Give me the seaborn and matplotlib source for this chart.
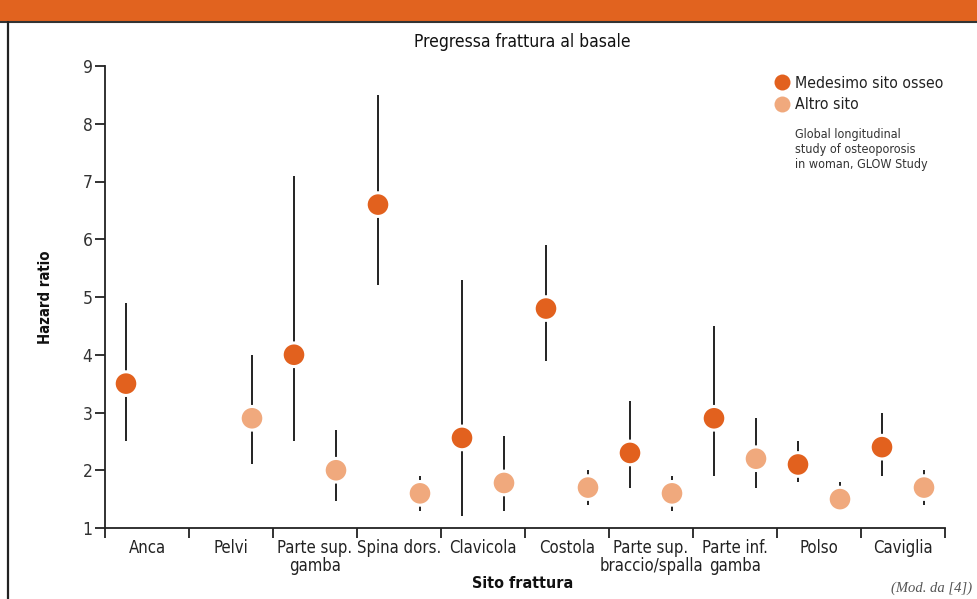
import numpy as np
import pandas as pd
import matplotlib
matplotlib.use("Agg")
import matplotlib.pyplot as plt
from matplotlib.patches import Rectangle
from matplotlib.lines import Line2D
import seaborn as sns

# Fracture sites (x categories)
siti = ["Anca", "Pelvi", "Parte sup.\ngamba", "Spina dors.", "Clavicola",
        "Costola", "Parte sup.\nbraccio/spalla", "Parte inf.\ngamba", "Polso", "Caviglia"]

# Same bone site: hazard ratio and 95% CI (None = not reported)
hr_stesso = [3.5, None, 4.0, 6.6, 2.56, 4.8, 2.3, 2.9, 2.1, 2.4]
lo_stesso = [2.5, None, 2.5, 5.2, 1.2, 3.9, 1.7, 1.9, 1.8, 1.9]
hi_stesso = [4.9, None, 7.1, 8.5, 5.3, 5.9, 3.2, 4.5, 2.5, 3.0]

# Other site: hazard ratio and 95% CI
hr_altro = [None, 2.9, 2.0, 1.6, 1.78, 1.7, 1.6, 2.2, 1.5, 1.7]
lo_altro = [None, 2.1, 1.47, 1.3, 1.3, 1.4, 1.3, 1.7, 1.3, 1.4]
hi_altro = [None, 4.0, 2.7, 1.9, 2.6, 2.0, 1.9, 2.9, 1.8, 2.0]

gruppi = ["Medesimo sito osseo", "Altro sito"]
colori = {"Medesimo sito osseo": "#E2611E", "Altro sito": "#F0A97D"}
offset = {"Medesimo sito osseo": 0.25, "Altro sito": 0.75}

rows = []
for serie, (hr, lo, hi) in zip(gruppi, [(hr_stesso, lo_stesso, hi_stesso),
                                        (hr_altro, lo_altro, hi_altro)]):
    for i, s in enumerate(siti):
        if hr[i] is None:
            continue
        rows.append(dict(sito=s, gruppo=serie, pos=i + offset[serie],
                         hr=hr[i], lo=lo[i], hi=hi[i]))
df = pd.DataFrame(rows)

sns.set_theme(style="ticks")
plt.rcParams["font.family"] = ["DejaVu Sans"]
plt.rcParams["font.stretch"] = "condensed"
TXT = "#222222"

fig = plt.figure(figsize=(9.77, 5.99), dpi=100)
ax = fig.add_axes([105 / 977, 71 / 599, 840 / 977, 462 / 599])

# confidence intervals
ax.vlines(df["pos"], df["lo"], df["hi"], color="#111111", lw=1.3, zorder=2)

sns.scatterplot(data=df, x="pos", y="hr", hue="gruppo", hue_order=gruppi,
                palette=colori, s=290, edgecolor="white", linewidth=2.2,
                legend=False, zorder=3, ax=ax)

ax.set_xlim(0, len(siti))
ax.set_ylim(1, 9)
ax.set_yticks(range(1, 10))
ax.set_xticks(range(0, len(siti) + 1))
ax.set_xticklabels([])
ax.set_xticks(np.arange(len(siti)) + 0.5, minor=True)
ax.set_xticklabels(siti, minor=True, fontsize=12, color=TXT, linespacing=1.0)
ax.tick_params(axis="x", which="minor", length=0, pad=8)
ax.tick_params(axis="x", which="major", length=7, width=1.3, color="#222222")
ax.tick_params(axis="y", length=7, width=1.3, color="#222222", labelsize=12.5,
               labelcolor="#333333", pad=2)
for sp in ["top", "right"]:
    ax.spines[sp].set_visible(False)
for sp in ["left", "bottom"]:
    ax.spines[sp].set_linewidth(1.3)
    ax.spines[sp].set_color("#222222")

ax.set_xlabel("")
ax.set_ylabel("")
fig.text(46 / 977, 1 - 297 / 599, "Hazard ratio", rotation=90, ha="center",
         va="center", fontsize=10.7, fontweight="bold", color="#111111")
fig.text(523 / 977, 1 - 583 / 599, "Sito frattura", ha="center", va="center",
         fontsize=11.5, fontweight="bold", color="#111111")
fig.text(522 / 977, 1 - 42 / 599, "Pregressa frattura al basale", ha="center",
         va="center", fontsize=12.5, color="#111111")

# legend
handles = [Line2D([0], [0], marker="o", ls="", markersize=11.5,
                  markerfacecolor=colori[g], markeredgecolor="none") for g in gruppi]
fig.legend(handles, gruppi, loc="upper left", bbox_to_anchor=(764 / 977, 1 - 68 / 599),
           frameon=False, fontsize=11.3, handletextpad=0.15, labelspacing=0.4,
           borderpad=0, handlelength=1.3, labelcolor="#222222")
fig.text(795 / 977, 1 - 128 / 599,
         "Global longitudinal\nstudy of osteoporosis\nin woman, GLOW Study",
         ha="left", va="top", fontsize=9, color="#333333", linespacing=1.2)

fig.text(972 / 977, 1 - 588 / 599, "(Mod. da [4])", ha="right", va="center",
         fontsize=10.5, style="italic", color="#555555",
         family=["Liberation Serif", "DejaVu Serif"])

# header band and frame
band_h = 22 / 599
fig.patches.append(Rectangle((0, 1 - band_h), 1, band_h, transform=fig.transFigure,
                             facecolor="#E1631F", edgecolor="none", zorder=0))
fig.lines.append(Line2D([0, 1], [1 - band_h] * 2, transform=fig.transFigure,
                        color="#333333", lw=1.5))
fig.lines.append(Line2D([8 / 977] * 2, [0, 1 - band_h], transform=fig.transFigure,
                        color="#222222", lw=1.6))

fig.savefig("out.png", dpi=100)
